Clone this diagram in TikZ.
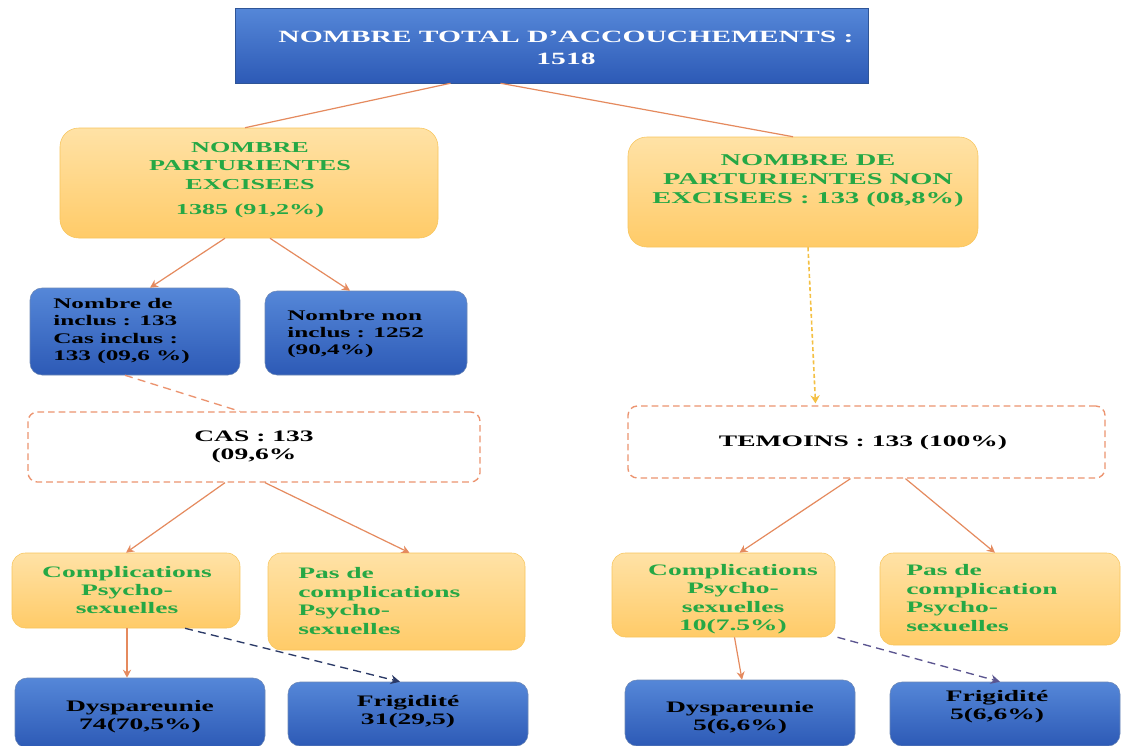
\documentclass[tikz,border=0pt]{standalone}
\usepackage{fontspec}
\setmainfont{Liberation Serif}[FakeStretch=1.72]
\usetikzlibrary{arrows.meta,calc}
\definecolor{blueA}{HTML}{5587D8}
\definecolor{blueB}{HTML}{2D5AB6}
\definecolor{blueD}{HTML}{2F5597}
\definecolor{orA}{HTML}{FFE2A6}
\definecolor{orB}{HTML}{FFCB68}
\definecolor{orD}{HTML}{F7C55C}
\definecolor{tgreen}{HTML}{25A845}
\definecolor{conn}{HTML}{E58A5E}
\definecolor{dashc}{HTML}{EC9470}
\definecolor{yell}{HTML}{F4C043}
\definecolor{navy}{HTML}{2B3A67}
\definecolor{purp}{HTML}{5B5590}
\def\u{0.75pt}
\begin{document}
\begin{tikzpicture}[x=0.75pt,y=-0.75pt,
  topbox/.style={draw=blueD, top color=blueA, bottom color=blueB, inner sep=0pt},
  obox/.style={draw=orD, top color=orA, bottom color=orB, rounded corners=14pt, inner sep=0pt},
  sobox/.style={draw=orD, top color=orA, bottom color=orB, rounded corners=10pt, inner sep=0pt},
  bbox/.style={draw=blueD!70, top color=blueA, bottom color=blueB, rounded corners=9pt, inner sep=0pt},
  dbox/.style={draw=dashc, line width=1pt, dash pattern=on 5pt off 3pt, rounded corners=7pt, fill=white, inner sep=0pt},
  wtxt/.style={text=white, font=\bfseries\fontsize{12.9}{16.3}\selectfont, align=center, inner sep=0pt},
  gtxt/.style={text=tgreen, font=\bfseries\fontsize{12}{13.8}\selectfont, inner sep=0pt},
  ktxt/.style={text=black, font=\bfseries\fontsize{12}{13.5}\selectfont, inner sep=0pt},
  kstxt/.style={text=black, font=\bfseries\fontsize{11}{13}\selectfont, inner sep=0pt, align=left},
  link/.style={draw=conn, line width=0.9pt},
  arr/.style={link, -{Stealth[length=6pt,width=6pt]}},
]
\useasboundingbox (0,0) rectangle (1132,746);
\fill[white] (0,0) rectangle (1132,746);

% boxes
\node[topbox, minimum width=633*\u, minimum height=75*\u] (top) at (551.5,45.5) {};
\node[obox, minimum width=378*\u, minimum height=110*\u] (exc) at (249,183) {};
\node[obox, minimum width=350*\u, minimum height=110*\u] (nexc) at (803,192) {};
\node[bbox, minimum width=210*\u, minimum height=87*\u] (inc) at (135,331.5) {};
\node[bbox, minimum width=202*\u, minimum height=84*\u] (ninc) at (366,333) {};
\node[dbox, minimum width=452*\u, minimum height=70*\u] (cas) at (254,447) {};
\node[dbox, minimum width=477*\u, minimum height=72*\u] (tem) at (866.5,442) {};
\node[sobox, minimum width=228*\u, minimum height=75*\u] (lc) at (126,590.5) {};
\node[sobox, minimum width=257*\u, minimum height=97*\u] (lp) at (396.5,601.5) {};
\node[sobox, minimum width=223*\u, minimum height=84*\u] (rc) at (723.5,595) {};
\node[sobox, minimum width=240*\u, minimum height=92*\u] (rp) at (1000,599) {};
\node[bbox, minimum width=250*\u, minimum height=70*\u] (ld) at (140,713) {};
\node[bbox, minimum width=240*\u, minimum height=64*\u] (lf) at (408,714) {};
\node[bbox, minimum width=230*\u, minimum height=66*\u] (rd) at (740,713) {};
\node[bbox, minimum width=230*\u, minimum height=64*\u] (rf) at (1005,714) {};

% texts
\node[wtxt] (top-t) at (566,48) {NOMBRE TOTAL D’ACCOUCHEMENTS :\\1518};
\node[gtxt, align=center, font=\bfseries\fontsize{11.4}{13.7}\selectfont] (exc-t) at (250,180) {NOMBRE\\PARTURIENTES\\EXCISEES\\[5pt]1385 (91,2\%)};
\node[gtxt, align=center, font=\bfseries\fontsize{12.4}{14.4}\selectfont] (nexc-t) at (808,181) {NOMBRE DE\\PARTURIENTES NON\\EXCISEES : 133 (08,8\%)};
\node[kstxt, anchor=west] (inc-t) at (53,331) {Nombre de\\inclus : 133\\Cas inclus :\\133 (09,6 \%)};
\node[kstxt, anchor=west] (ninc-t) at (287,334) {Nombre non\\inclus : 1252\\(90,4\%)};
\node[ktxt, align=center] (cas-t) at (254,447) {CAS : 133\\(09,6\%};
\node[ktxt, align=center] (tem-t) at (863,443) {TEMOINS : 133 (100\%)};
\node[gtxt, align=center] (lc-t) at (127,590) {Complications\\Psycho-\\sexuelles};
\node[gtxt, align=left, anchor=west] (lp-t) at (298,601) {Pas de\\complications\\Psycho-\\sexuelles};
\node[gtxt, align=center] (rc-t) at (733,599) {Complications\\Psycho-\\sexuelles\\10(7.5\%)};
\node[gtxt, align=left, anchor=west] (rp-t) at (906,598) {Pas de\\complication\\Psycho-\\sexuelles};
\node[ktxt, align=center] (ld-t) at (140,717) {Dyspareunie\\74(70,5\%)};
\node[ktxt, align=center] (lf-t) at (408,712) {Frigidité\\31(29,5)};
\node[ktxt, align=center] (rd-t) at (740,718) {Dyspareunie\\5(6,6\%)};
\node[ktxt, align=center] (rf-t) at (997,707) {Frigidité\\5(6,6\%)};

% connectors
\draw[link] ($(top.south)+(-101,0)$) -- ($(exc.north)+(-4,0)$);
\draw[link] ($(top.south)+(-51,0)$) -- ($(nexc.north)+(-10,0)$);
\draw[arr] ($(exc.south)+(-24,0)$) -- ($(inc.north)+(15,0)$);
\draw[arr] ($(exc.south)+(21,0)$) -- ($(ninc.north)+(-16,0)$);
\draw[draw=dashc, line width=1pt, dash pattern=on 6pt off 4pt] ($(inc.south)+(-10,0)$) -- ($(cas.north)+(-14,0)$);
\draw[draw=yell, line width=1.2pt, dash pattern=on 3pt off 2pt, -{Stealth[length=6pt,width=7pt]}] ($(nexc.south)+(5,0)$) -- ($(tem.north)+(-51,-2)$);
\draw[arr] ($(cas.south)+(-29,0)$) -- ($(lc.north)+(0,0)$);
\draw[arr] ($(cas.south)+(11,0)$) -- ($(lp.north)+(13,0)$);
\draw[arr] ($(tem.south)+(-16,0)$) -- ($(rc.north)+(16,0)$);
\draw[arr] ($(tem.south)+(39,0)$) -- ($(rp.north)+(-5,0)$);
\draw[arr] ($(lc.south)+(1,0)$) -- ($(ld.north)+(-13,0)$);
\draw[draw=navy, line width=1pt, dash pattern=on 6pt off 4pt, -{Stealth[length=7pt,width=7pt]}] ($(lc.south)+(59,0)$) -- ($(lf.north)+(-8,0)$);
\draw[arr] ($(rc.south)+(11,0)$) -- ($(rd.north)+(2,0)$);
\draw[draw=purp, line width=1pt, dash pattern=on 6pt off 4pt, -{Stealth[length=7pt,width=7pt]}] ($(rc.south)+(114,0)$) -- ($(rf.north)+(-5,0)$);
\end{tikzpicture}
\end{document}
